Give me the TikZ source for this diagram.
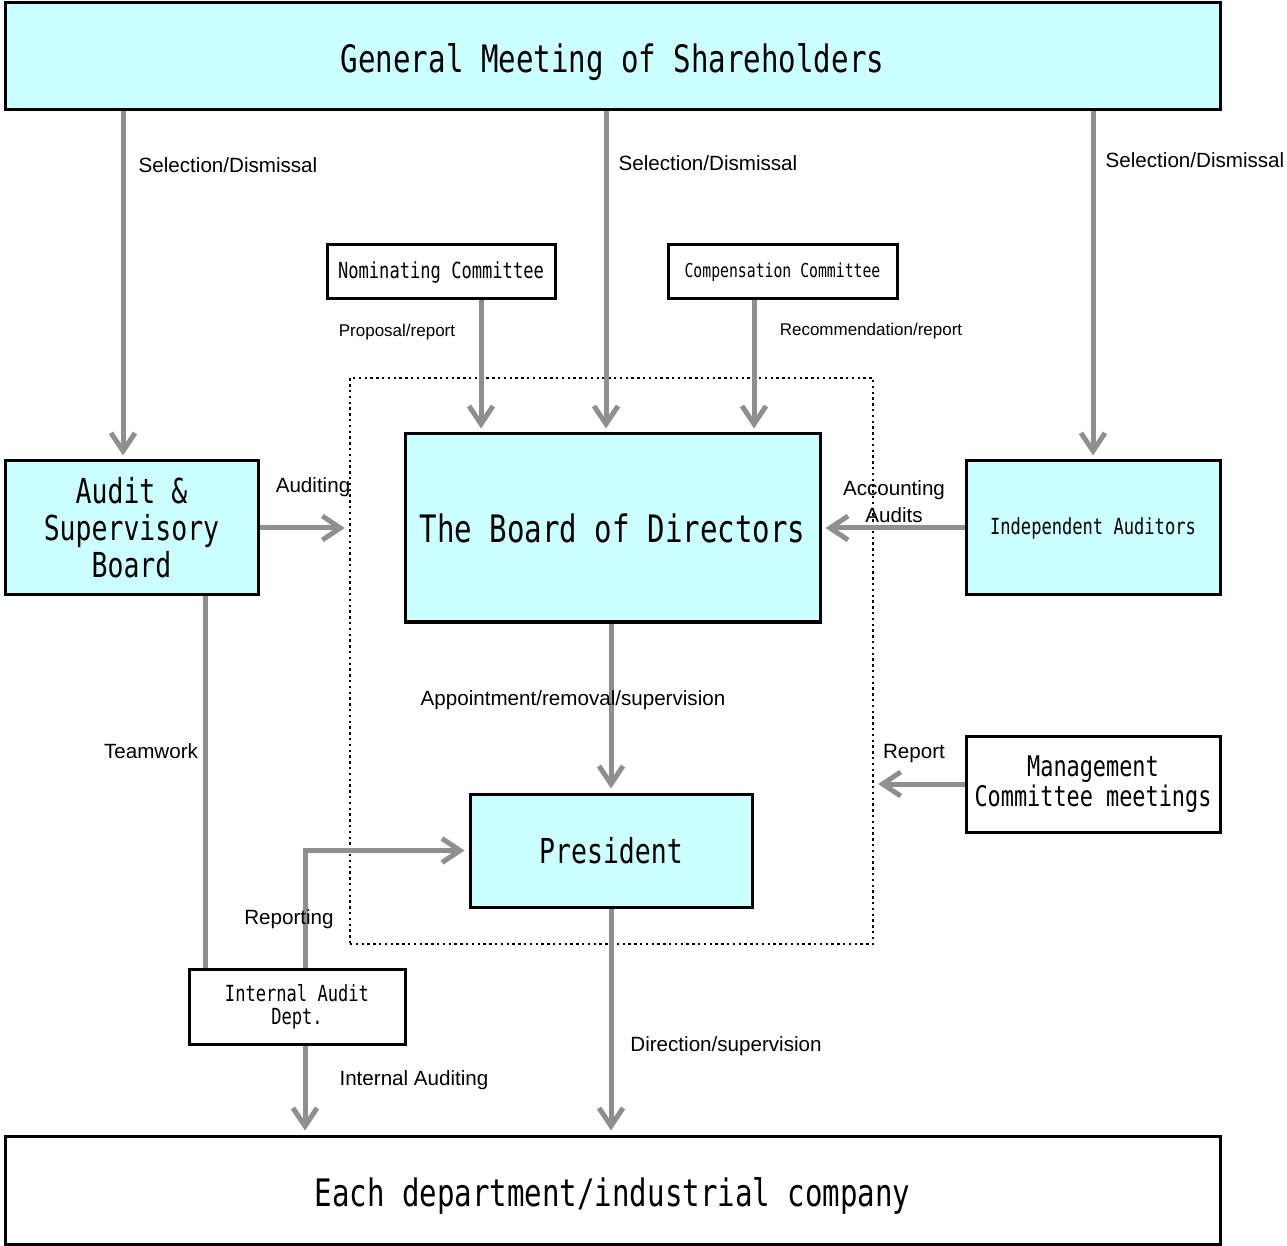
\documentclass[tikz,border=0pt]{standalone}
\usepackage{fontspec}
\setmainfont{Liberation Sans}
\newfontfamily\boxfont[FakeStretch=0.77]{DejaVu Sans Mono}
\usetikzlibrary{arrows.meta}
\definecolor{boxcyan}{HTML}{CCFFFF}
\definecolor{flowgray}{HTML}{8F8F8F}

\begin{document}
\begin{tikzpicture}[x=0.5pt, y=-0.5pt,
    box/.style={draw, line width=1.5pt, inner sep=0pt, align=center},
    filled/.style={box, fill=boxcyan},
    flow/.style={draw=flowgray, line width=2.5pt, -{Straight Barb[length=9pt,width=12pt]}, shorten >=2pt},
    link/.style={draw=flowgray, line width=2.5pt},
    lbl/.style={inner sep=0pt, align=center, font=\fontsize{10.3}{13.5}\selectfont},
    smalllbl/.style={inner sep=0pt, font=\fontsize{8.5}{10}\selectfont}]
    \useasboundingbox (0,0) rectangle (1287,1246);

    % dotted frame round board and president
    \node[draw, line width=1.2pt, dash pattern=on 1.2pt off 1.7pt, minimum width=261.5pt, minimum height=283pt] (core) at (611.5,661) {};

    % boxes
    \node[filled, minimum width=607.5pt, minimum height=53.5pt, text height=16.5pt, text depth=0pt, font=\boxfont\fontsize{18.9}{21}\selectfont] (gm) at (612.5,56.5) {General Meeting of Shareholders};
    \node[filled, minimum width=126.5pt, minimum height=67pt, font=\boxfont\fontsize{17.2}{18.5}\selectfont] (asb) at (131.5,528) {Audit \&\\Supervisory\\Board};
    \node[filled, minimum width=207.5pt, minimum height=94pt, text height=15pt, text depth=0pt, font=\boxfont\fontsize{18.9}{21}\selectfont] (board) at (612.5,528) {The Board of Directors};
    \node[filled, minimum width=127pt, minimum height=67pt, font=\boxfont\fontsize{11.1}{12}\selectfont] (ind) at (1093,528) {Independent Auditors};
    \node[box, minimum width=114pt, minimum height=27pt, font=\boxfont\fontsize{11.1}{12}\selectfont] (nom) at (441,272) {Nominating Committee};
    \node[box, minimum width=114.5pt, minimum height=27pt, font=\boxfont\fontsize{9.6}{10}\selectfont] (comp) at (782.5,272) {Compensation Committee};
    \node[box, minimum width=127pt, minimum height=48pt, font=\boxfont\fontsize{14.2}{15}\selectfont] (mgmt) at (1093,784) {Management\\Committee meetings};
    \node[filled, minimum width=141pt, minimum height=56.5pt, text height=12.5pt, text depth=0pt, font=\boxfont\fontsize{17.2}{18.5}\selectfont] (pres) at (611,850.5) {President};
    \node[box, minimum width=108pt, minimum height=37.5pt, font=\boxfont\fontsize{11.1}{11.5}\selectfont] (iad) at (297,1006.5) {Internal Audit\\Dept.};
    \node[box, minimum width=607.5pt, minimum height=54pt, text height=16.5pt, text depth=0pt, font=\boxfont\fontsize{18.9}{21}\selectfont] (each) at (612.5,1190) {Each department/industrial company};

    % points where the connectors leave their boxes
    \coordinate (a1) at ([xshift=-4.25pt]asb.north);
    \coordinate (b1) at ([xshift=-3.25pt]board.north);
    \coordinate (n1) at ([xshift=20pt]nom.south);
    \coordinate (c1) at ([xshift=-14.25pt]comp.south);
    \coordinate (t1) at ([xshift=36.75pt]asb.south);
    \coordinate (r1) at ([xshift=4pt]iad.north);
    \coordinate (r2) at ([xshift=4pt]iad.south);

    % connectors
    \draw[flow] (a1 |- gm.south) -- (a1);
    \draw[flow] (b1 |- gm.south) -- (b1);
    \draw[flow] (ind.north |- gm.south) -- (ind.north);
    \draw[flow] (n1) -- (n1 |- board.north);
    \draw[flow] (c1) -- (c1 |- board.north);
    \draw[flow] (asb.east) -- (asb.east -| core.west);
    \draw[flow] (ind.west) -- (board.east |- ind.west);
    \draw[flow] (pres.north |- board.south) -- (pres.north);
    \draw[flow] (mgmt.west) -- (core.east |- mgmt.west);
    \draw[link] (t1) -- (t1 |- iad.north);
    \draw[flow] (r1) |- (pres.west);
    \draw[flow] (r2) -- (r2 |- each.north);
    \draw[flow] (pres.south) -- (pres.south |- each.north);

    % labels
    \node[lbl] (s1) at (228,165) {Selection/Dismissal};
    \node[lbl] (s2) at (708,163) {Selection/Dismissal};
    \node[lbl] (s3) at (1195,160) {Selection/Dismissal};
    \node[smalllbl] (prop) at (397,332) {Proposal/report};
    \node[smalllbl] (recom) at (871,331) {Recommendation/report};
    \node[lbl] (aud) at (313,487) {Auditing};
    \node[lbl] (acc) at (894,502) {Accounting\\Audits};
    \node[lbl] (appt) at (573,700) {Appointment/removal/supervision};
    \node[lbl] (rep) at (914,754) {Report};
    \node[lbl] (team) at (151,751) {Teamwork};
    \node[lbl] (repg) at (289,919) {Reporting};
    \node[lbl] (intaud) at (414,1080) {Internal Auditing};
    \node[lbl] (dir) at (726,1046) {Direction/supervision};
\end{tikzpicture}
\end{document}
